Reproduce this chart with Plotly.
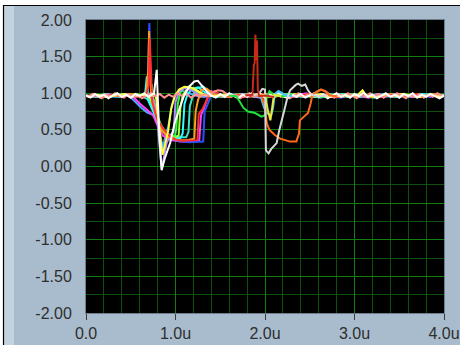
import plotly.graph_objects as go

# ---- data (time in µs, amplitude) ----
x_tickvals = [0, 1, 2, 3, 4]
x_ticktext = ["0.0", "1.0u", "2.0u", "3.0u", "4.0u"]
y_tickvals = [2, 1.5, 1, 0.5, 0, -0.5, -1, -1.5, -2]
y_ticktext = ["2.00", "1.50", "1.00", "0.50", "0.00", "-0.50", "-1.00", "-1.50", "-2.00"]

sky = [(0.02,0.96),(0.12,0.98),(0.22,0.95),(0.32,0.97),(0.42,0.99),(0.48,0.97),(0.55,0.88),(0.62,0.80),(0.68,0.74),(0.74,0.71),(0.79,0.66),(0.83,0.45),(0.86,0.25),(0.88,0.38),(0.92,0.55),(0.96,0.84),(1.00,0.98),(1.06,1.04),(1.14,1.01),(1.22,0.97),(1.32,0.95),(1.42,0.98),(1.52,0.96),(1.62,0.99),(1.72,0.97),(1.82,0.95),(1.92,0.98),(2.02,0.96),(2.12,0.99),(2.22,0.95),(2.32,0.97),(2.42,0.98),(2.52,0.96),(2.62,0.94),(2.72,0.97),(2.82,0.99),(2.92,0.96),(3.02,0.98),(3.12,0.95),(3.22,0.97),(3.32,0.99),(3.42,0.96),(3.52,0.98),(3.62,0.95),(3.72,0.97),(3.82,0.99),(3.92,0.96),(4.00,0.97)]
magenta = [(0.06,0.97),(0.16,0.95),(0.26,0.98),(0.36,0.96),(0.46,0.98),(0.52,0.96),(0.60,0.86),(0.68,0.77),(0.75,0.70),(0.80,0.56),(0.86,0.42),(0.95,0.36),(1.05,0.34),(1.15,0.34),(1.265,0.35),(1.285,0.70),(1.32,0.80),(1.36,0.95),(1.40,1.03),(1.47,0.98),(1.56,0.96),(1.66,0.98),(1.76,0.95),(1.86,0.97),(1.96,0.99),(2.06,0.96),(2.16,0.98),(2.26,0.95),(2.36,0.97),(2.46,1.00),(2.56,0.96),(2.66,0.98),(2.76,0.95),(2.86,0.97),(2.96,0.99),(3.06,0.96),(3.16,0.94),(3.26,0.98),(3.36,0.96),(3.46,0.99),(3.56,0.97),(3.66,0.95),(3.76,0.98),(3.86,0.96),(3.96,0.98),(4.00,0.96)]
blue = [(0.04,0.96),(0.14,0.98),(0.24,0.96),(0.34,0.95),(0.44,0.98),(0.54,0.97),(0.64,0.95),(0.69,0.97),(0.70,1.40),(0.708,1.96),(0.72,1.20),(0.735,0.92),(0.78,0.70),(0.84,0.52),(0.92,0.40),(1.02,0.35),(1.15,0.33),(1.31,0.34),(1.325,0.75),(1.36,0.85),(1.40,0.97),(1.46,1.00),(1.54,0.96),(1.64,0.98),(1.74,0.96),(1.84,0.99),(1.94,0.97),(2.04,0.95),(2.14,0.98),(2.24,0.96),(2.34,0.98),(2.44,0.95),(2.54,0.97),(2.64,0.99),(2.74,0.96),(2.84,0.94),(2.94,0.97),(3.04,0.99),(3.14,0.96),(3.24,0.98),(3.34,0.95),(3.44,0.97),(3.54,0.99),(3.64,0.96),(3.74,0.98),(3.84,0.95),(3.94,0.97),(4.00,0.98)]
teal = [(0.08,0.98),(0.18,0.96),(0.28,0.97),(0.38,0.95),(0.48,0.98),(0.58,0.96),(0.64,0.95),(0.70,0.91),(0.76,0.77),(0.83,0.58),(0.90,0.45),(1.00,0.40),(1.12,0.40),(1.145,0.47),(1.16,0.82),(1.19,0.95),(1.24,1.07),(1.31,1.09),(1.38,1.02),(1.44,0.97),(1.52,0.95),(1.62,0.98),(1.72,0.96),(1.82,0.97),(1.92,0.95),(2.02,0.98),(2.12,0.96),(2.22,0.99),(2.32,0.97),(2.42,0.95),(2.52,0.98),(2.62,0.96),(2.72,0.99),(2.82,0.97),(2.92,0.95),(3.02,0.98),(3.12,0.96),(3.22,0.94),(3.32,0.97),(3.42,0.99),(3.52,0.96),(3.62,0.98),(3.72,0.95),(3.82,0.97),(3.92,0.99),(4.00,0.96)]
cyan = [(0.01,0.97),(0.11,0.95),(0.21,0.98),(0.31,0.96),(0.41,0.98),(0.51,0.95),(0.60,0.97),(0.66,0.99),(0.68,1.23),(0.695,0.90),(0.74,0.78),(0.80,0.62),(0.88,0.45),(0.96,0.40),(1.05,0.38),(1.08,0.45),(1.10,0.85),(1.13,0.97),(1.18,1.06),(1.25,1.08),(1.32,1.02),(1.38,0.97),(1.46,0.95),(1.56,0.98),(1.66,0.96),(1.76,0.99),(1.86,0.96),(1.96,0.98),(2.06,0.95),(2.16,0.97),(2.26,0.99),(2.36,0.96),(2.46,0.98),(2.56,0.95),(2.66,0.97),(2.76,0.96),(2.86,0.99),(2.96,0.97),(3.06,0.95),(3.16,0.98),(3.26,0.96),(3.36,0.97),(3.46,0.95),(3.56,0.98),(3.66,0.96),(3.76,0.99),(3.86,0.97),(3.96,0.95),(4.00,0.97)]
lime = [(0.03,0.95),(0.13,0.97),(0.23,0.99),(0.33,0.96),(0.43,0.97),(0.53,0.95),(0.63,0.98),(0.70,0.97),(0.76,0.80),(0.82,0.58),(0.90,0.44),(0.98,0.40),(1.035,0.42),(1.055,0.80),(1.08,0.97),(1.13,1.06),(1.20,1.07),(1.28,1.01),(1.34,0.97),(1.43,0.98),(1.53,0.95),(1.63,0.97),(1.73,0.99),(1.83,0.96),(1.93,0.98),(2.03,0.95),(2.13,0.97),(2.23,0.96),(2.33,0.99),(2.43,0.97),(2.53,0.95),(2.63,0.98),(2.73,0.96),(2.83,0.97),(2.93,0.99),(3.03,0.96),(3.13,0.98),(3.23,0.95),(3.33,0.97),(3.43,0.96),(3.53,0.99),(3.63,0.97),(3.73,0.95),(3.83,0.98),(3.93,0.96),(4.00,0.97)]
green = [(0.07,0.98),(0.17,0.96),(0.27,0.95),(0.37,0.98),(0.47,0.97),(0.57,0.99),(0.67,0.96),(0.72,0.98),(0.735,1.12),(0.75,0.95),(0.80,0.68),(0.86,0.50),(0.92,0.43),(0.995,0.42),(1.01,0.52),(1.025,0.85),(1.05,1.00),(1.10,1.08),(1.15,1.09),(1.22,1.03),(1.30,0.98),(1.37,0.96),(1.47,0.98),(1.57,0.95),(1.67,0.97),(1.77,0.99),(1.87,0.96),(1.97,0.98),(2.07,0.95),(2.17,0.97),(2.27,0.99),(2.37,0.96),(2.47,0.98),(2.57,0.96),(2.67,0.95),(2.77,0.98),(2.87,0.96),(2.97,0.99),(3.07,0.97),(3.17,0.95),(3.27,0.98),(3.37,0.96),(3.47,0.97),(3.57,0.95),(3.67,0.98),(3.77,0.96),(3.87,0.99),(3.97,0.97),(4.00,0.96)]
violet = [(0.05,0.95),(0.15,0.97),(0.25,0.99),(0.35,0.96),(0.45,0.98),(0.55,0.95),(0.65,0.97),(0.74,0.98),(0.79,0.72),(0.83,0.15),(0.845,-0.03),(0.87,0.12),(0.90,0.32),(0.95,0.44),(0.98,0.47),(1.00,0.88),(1.04,1.02),(1.10,1.07),(1.18,1.04),(1.26,0.98),(1.35,0.96),(1.45,0.98),(1.55,0.95),(1.65,0.97),(1.75,0.99),(1.85,0.96),(1.95,0.94),(2.05,0.97),(2.15,0.98),(2.25,0.96),(2.35,0.95),(2.45,0.98),(2.55,0.97),(2.65,0.99),(2.75,0.95),(2.85,0.96),(2.95,0.98),(3.05,0.97),(3.15,0.95),(3.25,0.99),(3.35,0.96),(3.45,0.97),(3.55,0.98),(3.65,0.95),(3.75,0.97),(3.85,0.96),(3.95,0.98),(4.00,0.97)]
orange = [(0.00,0.96),(0.10,0.98),(0.20,0.95),(0.30,0.97),(0.40,0.96),(0.50,0.99),(0.60,0.97),(0.67,0.96),(0.695,1.30),(0.705,1.85),(0.715,1.40),(0.73,0.95),(0.78,0.72),(0.84,0.50),(0.92,0.40),(1.02,0.36),(1.12,0.36),(1.21,0.38),(1.225,0.75),(1.25,0.90),(1.29,1.05),(1.35,1.06),(1.42,0.99),(1.50,0.97),(1.60,0.95),(1.70,0.98),(1.80,0.96),(1.90,0.99),(2.00,0.97),(2.10,0.95),(2.20,0.98),(2.30,0.96),(2.40,0.97),(2.50,0.99),(2.60,0.96),(2.70,0.98),(2.80,0.95),(2.90,0.97),(3.00,0.96),(3.10,0.98),(3.20,0.95),(3.30,0.97),(3.40,0.99),(3.50,0.96),(3.60,0.98),(3.70,0.95),(3.80,0.97),(3.90,0.99),(4.00,0.96)]
red = [(0.09,0.97),(0.19,0.95),(0.29,0.98),(0.39,0.96),(0.49,0.97),(0.59,0.95),(0.67,0.98),(0.70,1.10),(0.712,1.75),(0.725,1.20),(0.74,0.88),(0.79,0.66),(0.86,0.52),(0.94,0.41),(1.00,0.37),(1.08,0.35),(1.245,0.36),(1.26,0.72),(1.30,0.78),(1.34,0.88),(1.38,0.98),(1.44,1.03),(1.50,0.98),(1.59,0.96),(1.69,0.98),(1.79,0.95),(1.89,0.97),(1.99,0.99),(2.09,0.96),(2.19,0.98),(2.29,0.95),(2.39,0.97),(2.49,0.99),(2.59,0.96),(2.69,0.98),(2.79,0.95),(2.89,0.97),(2.99,0.96),(3.09,0.99),(3.19,0.97),(3.29,0.95),(3.39,0.98),(3.49,0.96),(3.59,0.97),(3.69,0.99),(3.79,0.96),(3.89,0.98),(3.99,0.96)]
yellow = [(0.03,0.96),(0.13,0.98),(0.23,0.95),(0.33,0.97),(0.43,0.99),(0.53,0.96),(0.63,0.98),(0.72,0.97),(0.78,0.97),(0.81,0.62),(0.855,0.16),(0.88,0.28),(0.92,0.50),(0.95,0.78),(0.99,0.96),(1.04,1.05),(1.10,1.09),(1.17,1.08),(1.25,1.03),(1.32,0.98),(1.43,0.96),(1.53,0.98),(1.63,0.97),(1.73,0.95),(1.83,0.98),(1.93,0.96),(2.03,0.99),(2.13,0.97),(2.23,0.95),(2.33,0.98),(2.43,0.96),(2.53,0.97),(2.63,0.99),(2.73,0.95),(2.83,0.97),(2.93,0.96),(3.03,0.97),(3.09,1.04),(3.13,0.97),(3.23,0.95),(3.33,0.98),(3.43,0.96),(3.53,0.99),(3.63,0.97),(3.73,0.95),(3.83,0.98),(3.93,0.96),(4.00,0.97)]
pink = [(0.000,0.98),(0.025,0.95),(0.075,0.99),(0.125,0.96),(0.175,0.93),(0.225,0.98),(0.275,0.95),(0.325,1.00),(0.375,0.96),(0.425,0.94),(0.475,0.99),(0.525,0.95),(0.575,0.98),(0.625,0.93),(0.675,0.97),(0.725,1.00),(0.775,0.96),(0.825,0.99),(0.875,0.94),(0.925,0.98),(0.975,0.95),(1.025,1.00),(1.075,0.96),(1.125,0.99),(1.175,0.94),(1.225,0.98),(1.275,0.95),(1.325,0.99),(1.375,0.97),(1.425,1.02),(1.475,1.04),(1.525,1.03),(1.575,0.99),(1.625,0.95),(1.675,0.98),(1.725,0.93),(1.775,0.97),(1.825,1.00),(1.875,0.95),(1.925,0.98),(1.975,0.94),(2.025,0.99),(2.075,0.96),(2.125,1.00),(2.175,0.95),(2.225,0.98),(2.275,0.93),(2.325,0.97),(2.375,1.00),(2.425,0.95),(2.475,0.98),(2.525,0.96),(2.575,1.02),(2.625,1.05),(2.675,1.03),(2.725,0.98),(2.775,0.94),(2.825,0.99),(2.875,0.95),(2.925,1.00),(2.975,0.96),(3.025,0.93),(3.075,0.98),(3.125,0.95),(3.175,1.00),(3.225,0.96),(3.275,0.99),(3.325,0.94),(3.375,0.98),(3.425,0.95),(3.475,1.00),(3.525,0.96),(3.575,0.93),(3.625,0.98),(3.675,0.95),(3.725,0.99),(3.775,0.94),(3.825,0.98),(3.875,0.95),(3.925,1.00),(3.975,0.96),(4.000,0.98)]
white = [(0.00,0.97),(0.05,0.94),(0.10,0.99),(0.15,0.95),(0.20,0.98),(0.25,0.93),(0.30,0.97),(0.35,1.00),(0.40,0.95),(0.45,0.98),(0.50,0.94),(0.55,0.99),(0.60,0.96),(0.65,1.00),(0.70,0.95),(0.74,0.99),(0.76,0.99),(0.79,1.32),(0.80,1.00),(0.82,0.40),(0.845,-0.05),(0.88,0.11),(0.94,0.32),(0.99,0.59),(1.05,0.81),(1.10,0.98),(1.16,1.10),(1.21,1.16),(1.25,1.17),(1.30,1.10),(1.36,1.01),(1.40,0.97),(1.45,0.94),(1.50,0.99),(1.55,0.95),(1.60,1.00),(1.65,0.96),(1.70,0.93),(1.75,0.98),(1.80,0.95),(1.85,1.00),(1.90,0.96),(1.95,0.99),(2.00,0.94),(2.05,0.98),(2.10,0.95),(2.15,1.00),(2.20,0.96),(2.25,0.93),(2.30,0.98),(2.35,0.95),(2.40,0.99),(2.45,0.94),(2.50,0.97),(2.55,1.00),(2.60,0.95),(2.65,0.98),(2.70,0.93),(2.75,0.97),(2.80,1.00),(2.85,0.95),(2.90,0.98),(2.95,0.94),(3.00,0.99),(3.05,0.96),(3.10,1.01),(3.15,0.95),(3.20,0.98),(3.25,0.93),(3.30,0.97),(3.35,1.00),(3.40,0.95),(3.45,0.98),(3.50,0.94),(3.55,0.99),(3.60,0.96),(3.65,1.00),(3.70,0.94),(3.75,0.98),(3.80,0.95),(3.85,0.99),(3.90,0.96),(3.95,0.93),(4.00,0.97)]
green2 = [(1.60,0.97),(1.68,0.96),(1.72,0.88),(1.76,0.80),(1.81,0.75),(1.89,0.73),(1.96,0.68),(2.00,0.70),(2.02,0.95),(2.05,1.03),(2.10,0.98),(2.20,0.96),(2.30,0.98)]
cyan2 = [(1.88,0.97),(1.95,0.96),(1.99,0.80),(2.03,0.72),(2.07,0.70),(2.09,0.80),(2.11,0.99),(2.15,1.03),(2.22,0.98),(2.30,0.96)]
yellow2 = [(1.92,0.97),(2.00,0.98),(2.03,0.78),(2.06,0.63),(2.08,0.80),(2.10,0.98),(2.18,0.96)]
orange2 = [(1.85,0.97),(1.96,0.97),(2.00,0.82),(2.02,0.59),(2.05,0.50),(2.11,0.43),(2.17,0.38),(2.22,0.36),(2.28,0.34),(2.35,0.34),(2.38,0.45),(2.39,0.63),(2.43,0.68),(2.48,0.73),(2.51,0.86),(2.53,0.98),(2.58,1.02),(2.63,1.05),(2.68,1.02),(2.72,0.97),(2.80,0.96)]
grey2 = [(1.85,0.97),(1.93,0.99),(1.97,1.06),(2.00,1.05),(2.01,0.22),(2.04,0.18),(2.07,0.24),(2.13,0.32),(2.16,0.50),(2.19,0.63),(2.22,0.79),(2.25,0.94),(2.28,1.04),(2.34,1.11),(2.37,1.13),(2.41,1.10),(2.45,1.12),(2.48,1.04),(2.52,0.98),(2.60,0.96),(2.70,0.97)]
darkred = [(1.78,0.97),(1.86,0.98),(1.875,1.38),(1.885,1.42),(1.893,1.80),(1.90,1.45),(1.91,1.72),(1.92,1.05),(1.935,0.96),(2.00,0.97),(2.10,0.95)]

traces = [
    (sky, "#4aa8ff"), (magenta, "#ff40ff"), (blue, "#3050ff"), (teal, "#40e0c8"),
    (cyan, "#30ffff"), (lime, "#a8ff40"), (green, "#30ff30"), (violet, "#b48cff"),
    (orange, "#ff9a20"), (red, "#ff3030"), (yellow, "#ffff40"), (pink, "#ff9090"),
    (white, "#ffffff"),
    (green2, "#20e040"), (cyan2, "#40c8ff"), (yellow2, "#e8e840"),
    (orange2, "#ff6a1a"), (grey2, "#d8d8d8"), (darkred, "#c82a1a"),
]

fig = go.Figure()
for pts, col in traces:
    xs = [p[0] for p in pts]
    ys = [p[1] for p in pts]
    fig.add_trace(go.Scatter(x=xs, y=ys, mode="lines",
                             line=dict(color=col, width=2), hoverinfo="skip"))

L, R, T, B = 86, 16, 20, 32
W, H = 460, 345
pw, ph = W - L - R, H - T - B

def px(X):
    return (X - L) / pw

def py(Y):
    return (H - B - Y) / ph

shapes = [
    dict(type="rect", xref="paper", yref="paper", x0=px(0), x1=px(4), y0=py(H), y1=py(0),
         fillcolor="#ffffff", line=dict(width=0)),
    dict(type="rect", xref="paper", yref="paper", x0=px(4), x1=px(14), y0=py(H), y1=py(5),
         fillcolor="#c3d2df", line=dict(width=0)),
    dict(type="rect", xref="paper", yref="paper", x0=px(0), x1=px(W), y0=py(5), y1=py(0),
         fillcolor="#ffffff", line=dict(width=0)),
    dict(type="line", xref="paper", yref="paper", x0=px(3), x1=px(W), y0=py(5.5), y1=py(5.5),
         line=dict(color="#000000", width=1.2)),
    dict(type="line", xref="paper", yref="paper", x0=px(3.5), x1=px(3.5), y0=py(H), y1=py(5),
         line=dict(color="#000000", width=1.2)),
]

font = dict(family="Liberation Sans, Arial, sans-serif", size=16, color="#2e2e2e")

fig.update_layout(
    width=W, height=H,
    margin=dict(l=L, r=R, t=T, b=B, pad=0, autoexpand=False),
    paper_bgcolor="#a9bccd",
    plot_bgcolor="#000000",
    showlegend=False,
    shapes=shapes,
    font=font,
    xaxis=dict(range=[0, 4], tickmode="array", tickvals=x_tickvals, ticktext=x_ticktext,
               showgrid=True, gridcolor="#127e12", gridwidth=1,
               minor=dict(dtick=0.2, tick0=0, showgrid=True, gridcolor="#0b520b", gridwidth=1),
               ticks="outside", ticklen=6, tickcolor="#3a3a3a", tickwidth=1,
               showline=True, linecolor="#6e7e8e", linewidth=1, mirror=True,
               zeroline=False, tickfont=font, fixedrange=True, automargin=False),
    yaxis=dict(range=[-2, 2], tickmode="array", tickvals=y_tickvals, ticktext=y_ticktext,
               showgrid=True, gridcolor="#127e12", gridwidth=1,
               minor=dict(dtick=0.25, tick0=0, showgrid=True, gridcolor="#0b520b", gridwidth=1),
               ticks="", showline=True, linecolor="#6e7e8e", linewidth=1, mirror=True,
               zeroline=False, tickfont=font, ticklabelstandoff=10, fixedrange=True,
               automargin=False),
)

fig.write_html("out.html", config={"displayModeBar": False},
               post_script="document.body.style.margin='0';document.body.style.overflow='hidden';")
